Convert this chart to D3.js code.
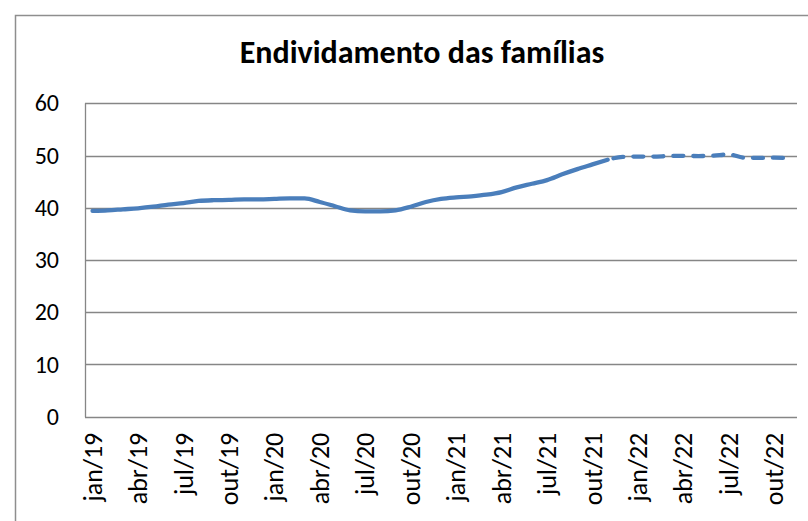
<!DOCTYPE html>
<html>
<head>
<meta charset="utf-8">
<script src="https://cdn.jsdelivr.net/npm/d3@7"></script>
<style>
  html, body { margin: 0; padding: 0; background: #fff; }
  svg { display: block; }
  text { font-family: Carlito, Lato, "Open Sans", sans-serif; fill: #000; }
</style>
</head>
<body>
<svg id="chart" width="808" height="521"></svg>
<script>
// months on the category axis (jan/19 .. nov/22)
var months = [
  'jan/19','fev/19','mar/19','abr/19','mai/19','jun/19','jul/19','ago/19','set/19','out/19','nov/19','dez/19',
  'jan/20','fev/20','mar/20','abr/20','mai/20','jun/20','jul/20','ago/20','set/20','out/20','nov/20','dez/20',
  'jan/21','fev/21','mar/21','abr/21','mai/21','jun/21','jul/21','ago/21','set/21','out/21','nov/21','dez/21',
  'jan/22','fev/22','mar/22','abr/22','mai/22','jun/22','jul/22','ago/22','set/22','out/22','nov/22'
]

// observed values (jan/19 .. nov/21)
var observed = [
  39.4, 39.5, 39.7, 39.9, 40.2, 40.6, 40.9, 41.3, 41.45, 41.5, 41.6, 41.6,
  41.7, 41.8, 41.8, 41.1, 40.3, 39.5, 39.3, 39.3, 39.5, 40.2, 41.1, 41.7,
  42.0, 42.2, 42.5, 43.0, 43.9, 44.6, 45.3, 46.4, 47.4, 48.3, 49.2
]

// projected values (nov/21 .. nov/22)
var projected = [49.2, 49.75, 49.8, 49.8, 49.9, 49.95, 49.9, 50.0, 50.2, 49.6, 49.55, 49.6, 49.5]
var projectedStart = 34

var yTicks = [0, 10, 20, 30, 40, 50, 60]
var xTickLabels = ['jan/19','abr/19','jul/19','out/19','jan/20','abr/20','jul/20','out/20',
  'jan/21','abr/21','jul/21','out/21','jan/22','abr/22','jul/22','out/22']

var title = 'Endividamento das famílias'

var svg = d3.select('#chart'),
  plotLeft = 85, plotRight = 797, plotTop = 103.3, plotBottom = 416.7

var x = d3.scaleBand().domain(months).range([plotLeft, plotRight])
var y = d3.scaleLinear().domain([0, 60]).range([plotBottom, plotTop])
var cx = function (m) { return x(m) + x.bandwidth() / 2 }

// outer frame
svg.append('rect')
  .attr('x', 15.5).attr('y', 15.5)
  .attr('width', 830).attr('height', 560)
  .attr('fill', 'none').attr('stroke', '#8e8e8e').attr('stroke-width', 1.5)

svg.append('text')
  .attr('x', 422).attr('y', 63)
  .attr('text-anchor', 'middle')
  .style('font-weight', 'bold')
  .style('font-size', '32px')
  .text(title)

// gridlines
svg.append('g').selectAll('line')
  .data(yTicks)
  .enter().append('line')
  .attr('x1', plotLeft).attr('x2', plotRight)
  .attr('y1', function (d) { return Math.round(y(d)) + 0.5 })
  .attr('y2', function (d) { return Math.round(y(d)) + 0.5 })
  .attr('stroke', '#868686').attr('stroke-width', 1.3)

svg.append('line')
  .attr('x1', plotLeft + 0.5).attr('x2', plotLeft + 0.5)
  .attr('y1', plotTop).attr('y2', plotBottom + 0.5)
  .attr('stroke', '#868686').attr('stroke-width', 1.3)

// y labels
var yAxis = d3.axisLeft(y).tickValues(yTicks).tickSize(0).tickPadding(26)
var gy = svg.append('g').attr('transform', 'translate(' + plotLeft + ',0)').call(yAxis)
gy.select('.domain').remove()
gy.selectAll('text').style('font-size', '24px').style('font-family', null).attr('fill', '#000')

// x labels
var gx = svg.append('g').attr('transform', 'translate(0,' + plotBottom + ')')
gx.selectAll('text')
  .data(xTickLabels)
  .enter().append('text')
  .attr('transform', function (d) { return 'translate(' + cx(d) + ',16) rotate(-90)' })
  .attr('text-anchor', 'end')
  .attr('dy', '0.35em')
  .style('font-size', '26px')
  .text(function (d) { return d })

var line = d3.line()
  .x(function (d) { return cx(d.m) })
  .y(function (d) { return y(d.v) })
  .curve(d3.curveMonotoneX)

var obsData = observed.map(function (v, i) { return { m: months[i], v: v } })
var projData = projected.map(function (v, i) { return { m: months[projectedStart + i], v: v } })

svg.append('path')
  .attr('d', line(obsData))
  .attr('fill', 'none').attr('stroke', '#4a7ebb')
  .attr('stroke-width', 4.3).attr('stroke-linecap', 'round')

svg.append('path')
  .attr('d', line(projData))
  .attr('fill', 'none').attr('stroke', '#4a7ebb')
  .attr('stroke-width', 4.3).attr('stroke-linecap', 'round')
  .attr('stroke-dasharray', '10,10').attr('stroke-dashoffset', 14)
</script>
</body>
</html>
